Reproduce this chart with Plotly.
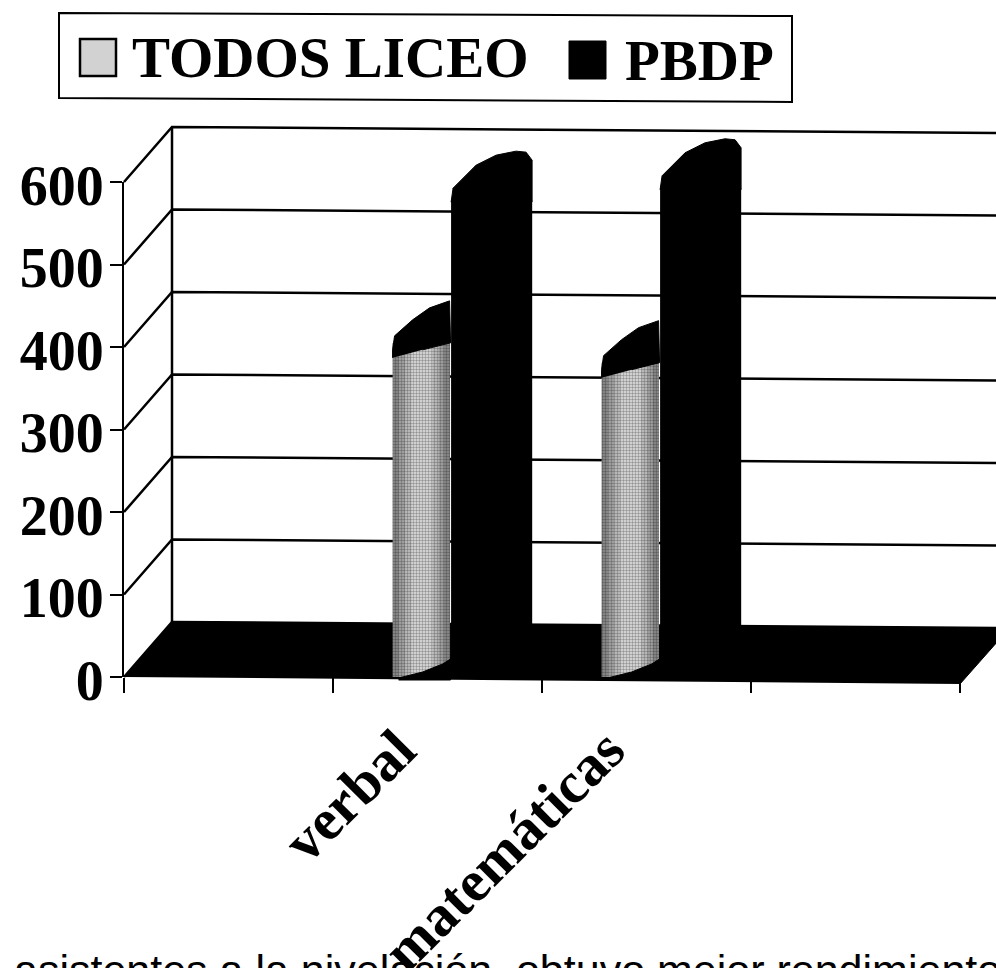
import plotly.graph_objects as go

categories = [" ", "verbal", "matemáticas", "  "]
series_names = ["TODOS LICEO", "PBDP"]
todos_liceo = [None, 405, 381, None]
pbdp = [None, 578, 593, None]
grid_values = [0, 100, 200, 300, 400, 500, 600]
caption = "asistentes a la nivelación, obtuvo mejor rendimiento"

W, H = 996, 968
X0, X4, Y0, Y600 = 124, 960, 677, 182
PX_U = (X4 - X0) / 4          # pixels per category
PX_V = (Y0 - Y600) / 600      # pixels per value unit
DEPTH_U = 48 / PX_U
DEPTH_V = 55 / PX_V
TILT = 6 / PX_V / (824 / PX_U)  # scan skew, value units per category
SERIF = "Liberation Serif"

fig = go.Figure()
LINE = dict(color="black", width=2.5)

def add_bg(xs, ys, **kw):
    fig.add_trace(go.Scatter(x=xs, y=ys, mode="lines", xaxis="x", yaxis="y", showlegend=False,
                             hoverinfo="skip", **kw))

right_u = (W + 10 - 172) / PX_U
# floor
add_bg([0, DEPTH_U, DEPTH_U + right_u, (W + 10 - X0) / PX_U, 4],
       [0, DEPTH_V, DEPTH_V - TILT * right_u, (Y0 - 632) / PX_V, -7 / PX_V],
       fill="toself", fillcolor="black", line=dict(color="black", width=1))
# back wall and side wall
add_bg([DEPTH_U, DEPTH_U], [DEPTH_V, 600 + DEPTH_V], line=LINE)
for v in grid_values:
    add_bg([0, DEPTH_U, DEPTH_U + right_u],
           [v, v + DEPTH_V, v + DEPTH_V - TILT * right_u], line=LINE)

# bars: the stippled cylinder, shaded with lighter bands towards its middle
BANDS = [(-0.215, 0.275, "#2a2a2a", "#909090"),
         (-0.185, 0.215, "#333333", "#acacac"),
         (-0.155, 0.160, "#3a3a3a", "#c8c8c8"),
         (-0.125, 0.100, "#444444", "#e4e4e4")]
for k, (off, wid, fg, bg) in enumerate(BANDS):
    fig.add_trace(go.Bar(x=categories, y=todos_liceo, name=series_names[0], xaxis="x2", yaxis="y2",
                         width=wid, offset=off, showlegend=False,
                         hoverinfo="x+y" if k == 0 else "skip",
                         marker=dict(color=bg, line=dict(width=0),
                                     pattern=dict(shape=".", size=3, solidity=0.5,
                                                  fgcolor=fg, bgcolor=bg))))
fig.add_trace(go.Bar(x=categories, y=pbdp, name=series_names[1], xaxis="x2", yaxis="y2",
                     width=0.388, offset=0.065, showlegend=False,
                     marker=dict(color="black", line=dict(width=0))))

# cylinder tops and bases, as pixel offsets from each bar's top-left / bottom-left corner
GRAY_CAP = [(0, 15), (0, 7), (2, -7), (20, -23), (37, -35), (57, -42), (58, 0), (30, 7)]
GRAY_BASE = [(6, 1), (30, -5), (50, -13), (58, -18), (58, 3), (6, 3)]
BLACK_CAP = [(0, 2), (2, -12), (25, -35), (45, -45), (65, -49), (75, -48), (81, -40), (81, 2)]

def add_fg(xs, ys):
    fig.add_trace(go.Scatter(x=xs, y=ys, mode="lines", fill="toself", fillcolor="black",
                             line=dict(color="black", width=1), xaxis="x3", yaxis="y3",
                             showlegend=False, hoverinfo="skip"))

for i, c in enumerate(categories):
    if todos_liceo[i] is None:
        continue
    centre = i + 0.5
    left = centre - 0.215
    add_fg([left + dx / PX_U for dx, _ in GRAY_CAP], [todos_liceo[i] - dy / PX_V for _, dy in GRAY_CAP])
    add_fg([left + dx / PX_U for dx, _ in GRAY_BASE], [-dy / PX_V for _, dy in GRAY_BASE])
    lb = centre + 0.065
    add_fg([lb + dx / PX_U for dx, _ in BLACK_CAP], [pbdp[i] - dy / PX_V for _, dy in BLACK_CAP])

def fx(px): return px / W
def fy(px): return 1 - px / H

def paper_path(pts):
    return "M " + " L ".join(f"{fx(x):.5f} {fy(y):.5f}" for x, y in pts) + " Z"

shapes = [
    dict(type="path", xref="paper", yref="paper", path=paper_path([(59, 13), (792, 16), (792, 102), (59, 98)]),
         line=dict(color="black", width=2), fillcolor="white", layer="below"),
    dict(type="rect", xref="paper", yref="paper", x0=fx(80), x1=fx(116), y0=fy(39), y1=fy(76),
         line=dict(color="black", width=2.5), fillcolor="#d2d2d2"),
    dict(type="rect", xref="paper", yref="paper", x0=fx(569), x1=fx(606), y0=fy(41), y1=fy(79),
         line=dict(color="black", width=1), fillcolor="black"),
]

annotations = [
    dict(text=f"<b>{series_names[0]}</b>", xref="paper", yref="paper", x=fx(130), y=fy(58), xanchor="left",
         yanchor="middle", showarrow=False, font=dict(family=SERIF, size=57, color="black")),
    dict(text=f"<b>{series_names[1]}</b>", xref="paper", yref="paper", x=fx(623), y=fy(60), xanchor="left",
         yanchor="middle", showarrow=False, font=dict(family=SERIF, size=57, color="black")),
    dict(text=caption, xref="paper", yref="paper", x=fx(13), y=fy(945), xanchor="left", yanchor="top",
         showarrow=False, font=dict(family="Liberation Sans", size=43, color="black"),
         borderpad=0),
]

front_x = [X0 / W, X4 / W]
front_y = [1 - Y0 / H, 1 - Y600 / H]
fig.update_layout(
    width=W, height=H, margin=dict(l=0, r=0, t=0, b=0), paper_bgcolor="white", plot_bgcolor="rgba(0,0,0,0)",
    barmode="overlay", showlegend=False, shapes=shapes, annotations=annotations,
    xaxis=dict(domain=[0, 1], range=[-X0 / PX_U, (W - X0) / PX_U], visible=False),
    yaxis=dict(domain=[0, 1], range=[(Y0 - H) / PX_V, Y0 / PX_V], visible=False),
    xaxis2=dict(domain=front_x, anchor="y2", type="category", categoryorder="array", categoryarray=categories,
                range=[-0.5, 3.5], tickson="boundaries", ticks="outside", ticklen=15, tickwidth=2, tickcolor="black",
                showgrid=False, zeroline=False, showline=False, tickangle=-45, automargin=False,
                ticklabelstandoff=26, ticklabelshift=-39,
                tickfont=dict(family=SERIF, size=58, color="black", weight="bold")),
    yaxis2=dict(domain=front_y, anchor="x2", range=[0, 600], tickvals=grid_values, ticks="outside", ticklen=12,
                tickwidth=2, tickcolor="black", showline=True, linecolor="black", linewidth=2, showgrid=False,
                zeroline=False, automargin=False, ticklabelstandoff=-5, ticklabelshift=3,
                tickfont=dict(family=SERIF, size=56, color="black", weight="bold")),
    xaxis3=dict(domain=[0, 1], anchor="y3", range=[-X0 / PX_U, (W - X0) / PX_U], visible=False),
    yaxis3=dict(domain=[0, 1], anchor="x3", range=[(Y0 - H) / PX_V, Y0 / PX_V], visible=False),
)
fig.write_html("out.html", config=dict(displayModeBar=False),
               post_script="document.body.style.margin='0';document.body.style.overflow='hidden';")
